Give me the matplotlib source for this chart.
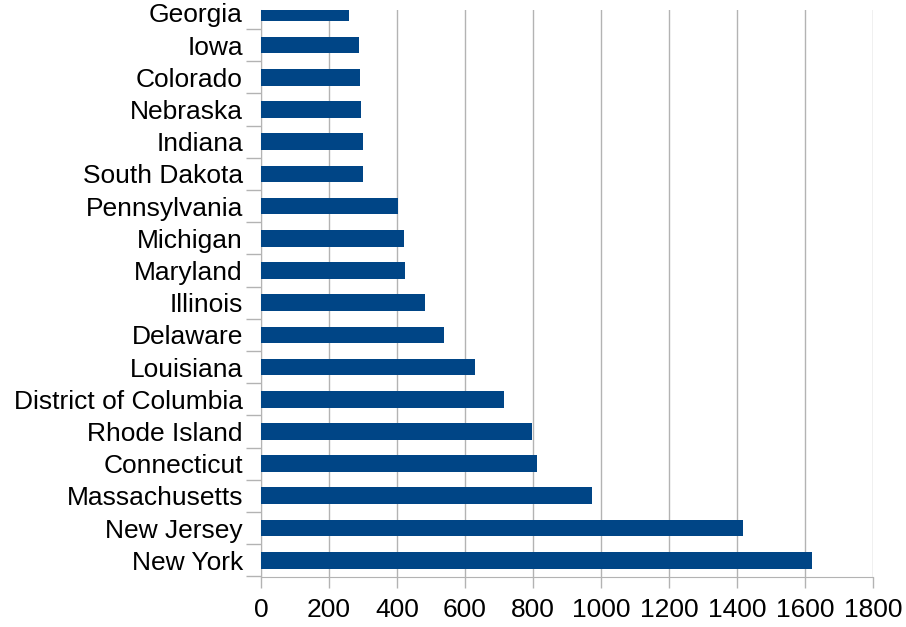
import matplotlib.pyplot as plt

states = ['New York', 'New Jersey', 'Massachusetts', 'Connecticut', 'Rhode Island',
          'District of Columbia', 'Louisiana', 'Delaware', 'Illinois', 'Maryland',
          'Michigan', 'Pennsylvania', 'South Dakota', 'Indiana', 'Nebraska',
          'Colorado', 'Iowa', 'Georgia']
values = [1620, 1418, 973, 812, 797, 715, 629, 538, 482, 424, 420, 403, 300, 300,
          294, 291, 288, 259]
xticks = [0, 200, 400, 600, 800, 1000, 1200, 1400, 1600, 1800]

plt.rcParams['font.family'] = ['Liberation Sans', 'DejaVu Sans']

fig = plt.figure(figsize=(9.06, 6.27), dpi=100)
ax = fig.add_axes([261 / 906, 1 - 577 / 627, 612 / 906, 567 / 627])

pos = list(range(len(states)))
ax.barh(pos, values, height=0.52, color='#004586', zorder=3)

ax.set_xticks(xticks)
ax.set_xticklabels([str(t) for t in xticks])
ax.grid(axis='x', color='#b3b3b3', linewidth=1, zorder=0)

# labels at category centres, tick marks on the boundaries
ax.set_yticks(pos)
ax.set_yticklabels(states)
ax.set_yticks([p - 0.5 for p in pos] + [len(pos) - 0.5], minor=True)
ax.tick_params(axis='y', which='major', length=0, pad=13, labelsize=19)
ax.tick_params(axis='y', which='minor', length=11, color='#b3b3b3', width=1)
ax.tick_params(axis='x', length=8, color='#b3b3b3', width=1, pad=7, labelsize=19)

# top of the chart is cut off, Georgia only partly visible
ax.set_xlim(0, 1800)
ax.set_ylim(-0.52, 17.09)

for s in ['top', 'right']:
    ax.spines[s].set_visible(False)
for s in ['left', 'bottom']:
    ax.spines[s].set_color('#b3b3b3')

fig.savefig('out.png', dpi=100)
